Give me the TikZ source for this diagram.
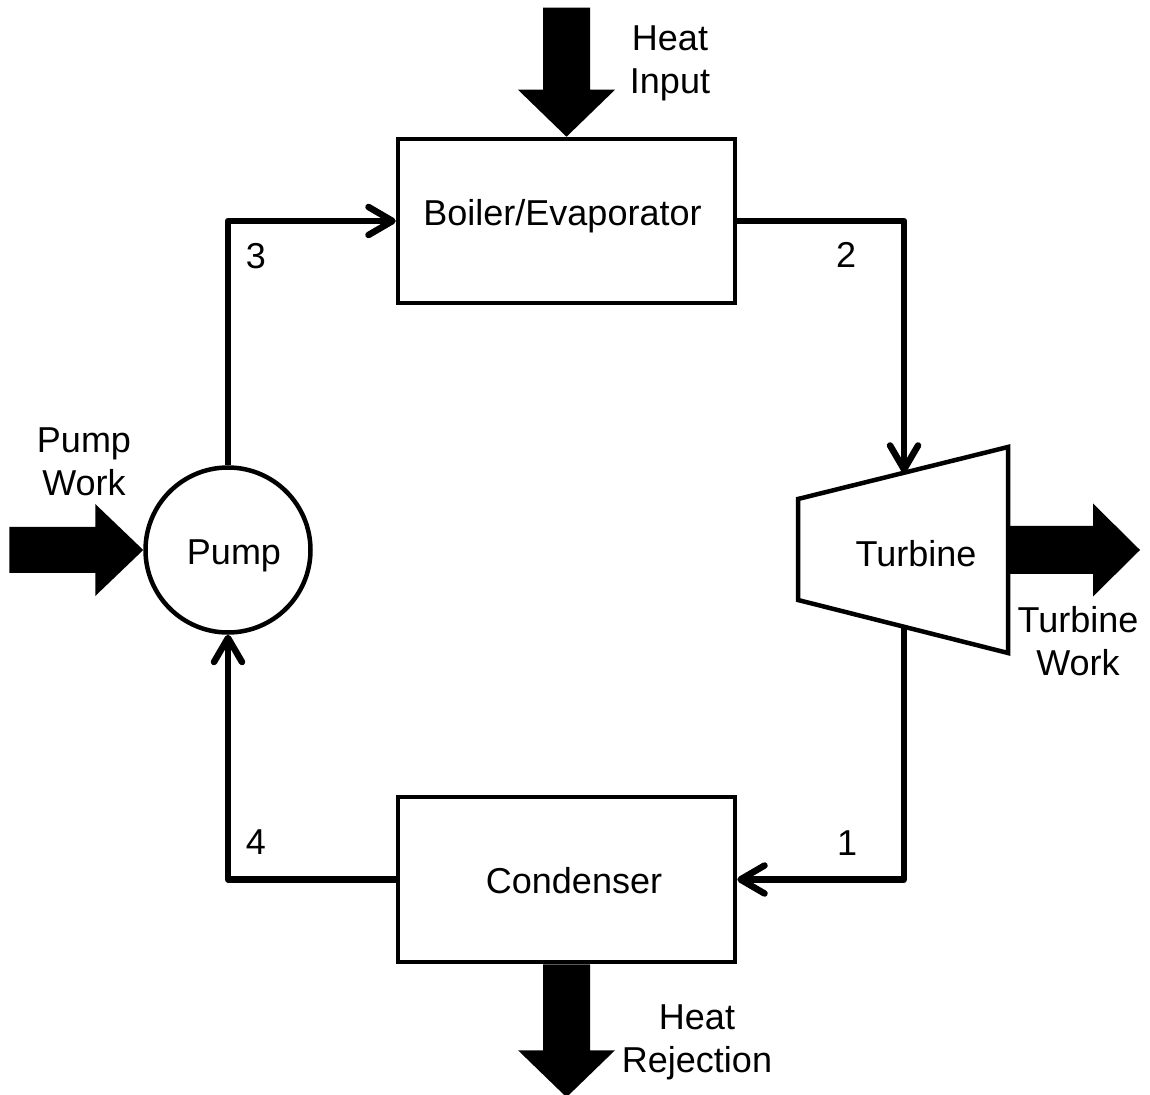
\documentclass[tikz,border=0pt]{standalone}
\usepackage{fontspec}
\setmainfont{Liberation Sans}
\usetikzlibrary{arrows.meta,calc}
\begin{document}
\begin{tikzpicture}[x=0.5pt,y=-0.5pt,
  every node/.style={font=\fontsize{18}{21.5}\selectfont},
  box/.style={draw,line width=2.25pt,minimum width=168.5pt,inner sep=0pt},
  pumpshape/.style={draw,circle,line width=2.25pt,minimum size=82.5pt,inner sep=0pt},
  txt/.style={inner sep=0pt},
  label2/.style={inner sep=0pt,align=center},
  flow/.style={line width=3.25pt,line join=round,-{Straight Barb[length=12pt,width=14pt,round]}},
  outline/.style={line width=2.25pt,line join=miter},
  bigfill/.style={fill=black}]
\useasboundingbox (0,0) rectangle (1150,1095);

% components
\node[box,minimum height=82pt] (boiler) at (566.5,221) {};
\node[box,minimum height=82.5pt] (condenser) at (566.5,879.5) {};
\node[pumpshape] (pump) at (228,550) {};

\coordinate (tl) at (798,499);
\coordinate (bl) at (798,600);
\coordinate (tr) at (1008,447);
\coordinate (br) at (1008,653);
\draw[outline] (tl) -- (tr) -- (br) -- (bl) -- cycle;
\coordinate (ti) at ($(tl)!0.505!(tr)$);
\coordinate (to) at ($(bl)!0.505!(br)$);
\coordinate (trm) at ($(tr)!0.5!(br)$);

% texts in components
\node[txt,anchor=base] (boilertext) at (562.5,226) {Boiler/Evaporator};
\node[txt,anchor=base] (condensertext) at (574,893) {Condenser};
\node[txt,anchor=base] (pumptext) at (234,565) {Pump};
\node[txt,anchor=base] (turbinetext) at (916,567) {Turbine};

% flow connectors
\draw[flow] (pump.north) |- (boiler.west);
\draw[flow] (boiler.east) -| (ti);
\draw[flow] (to) |- (condenser.east);
\draw[flow] (condenser.west) -| (pump.south);

% state numbers
\node[txt] (s3) at (256,256) {3};
\node[txt] (s2) at (846,255) {2};
\node[txt] (s1) at (847,843) {1};
\node[txt] (s4) at (256,842) {4};

% big energy arrows
\fill[bigfill] (boiler.north) -- ++(-48.5,-47) -- ++(25,0) -- ++(0,-82) -- ++(47,0) -- ++(0,82) -- ++(25,0) -- cycle;
\fill[bigfill] (condenser.south) ++(-23.5,0) -- ++(0,86) -- ++(-25,0) -- ++(48.5,47) -- ++(48.5,-47) -- ++(-25,0) -- ++(0,-86) -- cycle;
\fill[bigfill] (pump.west) -- ++(-48,-46) -- ++(0,23) -- ++(-86,0) -- ++(0,46) -- ++(86,0) -- ++(0,23) -- cycle;
\fill[bigfill] (trm) ++(0,-24) -- ++(85,0) -- ++(0,-22.5) -- ++(47,46.5) -- ++(-47,46.5) -- ++(0,-22.5) -- ++(-85,0) -- cycle;

% energy labels
\node[label2] (heatin) at (670,63) {Heat\\Input};
\node[label2] (heatout) at (697,1042) {Heat\\Rejection};
\node[label2] (pumpwork) at (84,462) {Pump\\Work};
\node[label2] (turbwork) at (1078,641) {Turbine\\Work};
\end{tikzpicture}
\end{document}
